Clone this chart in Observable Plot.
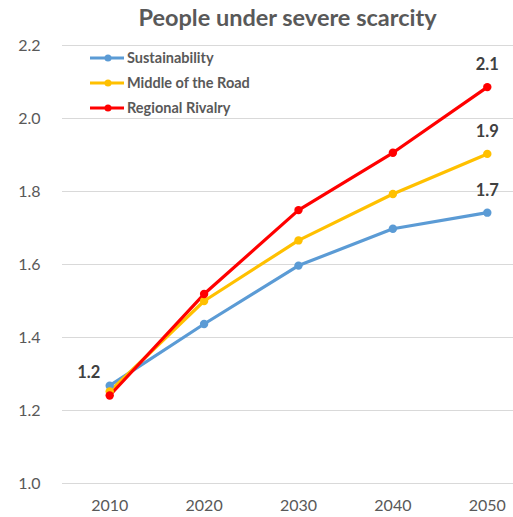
<!DOCTYPE html>
<html>
<head>
<meta charset="utf-8">
<script src="https://cdn.jsdelivr.net/npm/d3@7"></script>
<script src="https://cdn.jsdelivr.net/npm/@observablehq/plot@0.6"></script>
<style>
  html, body { margin: 0; padding: 0; background: #fff; }
  #wrap { position: relative; width: 513px; height: 517px; font-family: Lato, "Open Sans", sans-serif; }
  #title { height: 35px; line-height: 34px; padding-left: 62px; text-align: center; font-weight: bold; font-size: 23.5px; color: #595959; box-sizing: border-box; }
  #legend { position: absolute; left: 90px; top: 45px; }
  .row { display: flex; align-items: center; height: 25px; font-weight: bold; font-size: 14.5px; color: #595959; }
  .row svg { margin-right: 3px; }
</style>
</head>
<body>
<div id="wrap">
  <div id="title">People under severe scarcity</div>
  <div id="chart"></div>
  <div id="legend"></div>
</div>
<script>
// Scenarios and their colours
const series = ["Sustainability", "Middle of the Road", "Regional Rivalry"];
const colors = ["#5B9BD5", "#FFC000", "#FF0000"];
const years = [2010, 2020, 2030, 2040, 2050];

// People under severe scarcity (billions), per scenario
const sustainability = [1.268, 1.437, 1.597, 1.698, 1.742];
const middleOfTheRoad = [1.252, 1.500, 1.666, 1.793, 1.903];
const regionalRivalry = [1.241, 1.519, 1.749, 1.906, 2.086];

const yTicks = [1.0, 1.2, 1.4, 1.6, 1.8, 2.0, 2.2];

const values = [sustainability, middleOfTheRoad, regionalRivalry];
const data = series.flatMap((s, i) => years.map((year, j) => ({series: s, year, value: values[i][j]})));

// Value labels: end of each line, plus the shared 2010 starting value
const endLabels = data.filter(d => d.year === 2050);
const startLabel = data.filter(d => d.year === 2010 && d.series === "Regional Rivalry");

const chart = Plot.plot({
  width: 513,
  height: 482,
  marginTop: 10,
  marginBottom: 34,
  marginLeft: 62,
  marginRight: 0,
  style: {fontFamily: "Lato, 'Open Sans', sans-serif", fontSize: "16px", color: "#595959", background: "#fff"},
  x: {domain: [2005, 2055], range: [62, 534], ticks: years, tickFormat: d => String(d), tickSize: 0, tickPadding: 16, label: null},
  y: {domain: [1.0, 2.2], ticks: yTicks, tickFormat: ".1f", tickSize: 0, tickPadding: 22, label: null},
  color: {domain: series, range: colors},
  marks: [
    Plot.gridY(yTicks, {stroke: "#D9D9D9", strokeOpacity: 1, strokeWidth: 1}),
    Plot.line(data, {x: "year", y: "value", z: "series", stroke: "series", strokeWidth: 3.2, curve: "linear"}),
    Plot.dot(data, {x: "year", y: "value", fill: "series", r: 4.2}),
    Plot.text(endLabels, {x: "year", y: "value", text: d => d3.format(".1f")(d.value), dy: -22, fontWeight: "bold", fontSize: 16.5, fill: "#404040"}),
    Plot.text(startLabel, {x: "year", y: "value", text: d => d3.format(".1f")(d.value), dx: -21, dy: -23, fontWeight: "bold", fontSize: 16.5, fill: "#404040"})
  ]
});
document.getElementById("chart").appendChild(chart);

// Legend inside the plot area, top left
const legend = d3.select("#legend");
series.forEach((s, i) => {
  const row = legend.append("div").attr("class", "row");
  const sw = row.append("svg").attr("width", 34).attr("height", 10);
  sw.append("line").attr("x1", 0).attr("x2", 34).attr("y1", 5).attr("y2", 5).attr("stroke", colors[i]).attr("stroke-width", 3);
  sw.append("circle").attr("cx", 18).attr("cy", 5).attr("r", 3.5).attr("fill", colors[i]);
  row.append("span").text(s);
});
</script>
</body>
</html>
